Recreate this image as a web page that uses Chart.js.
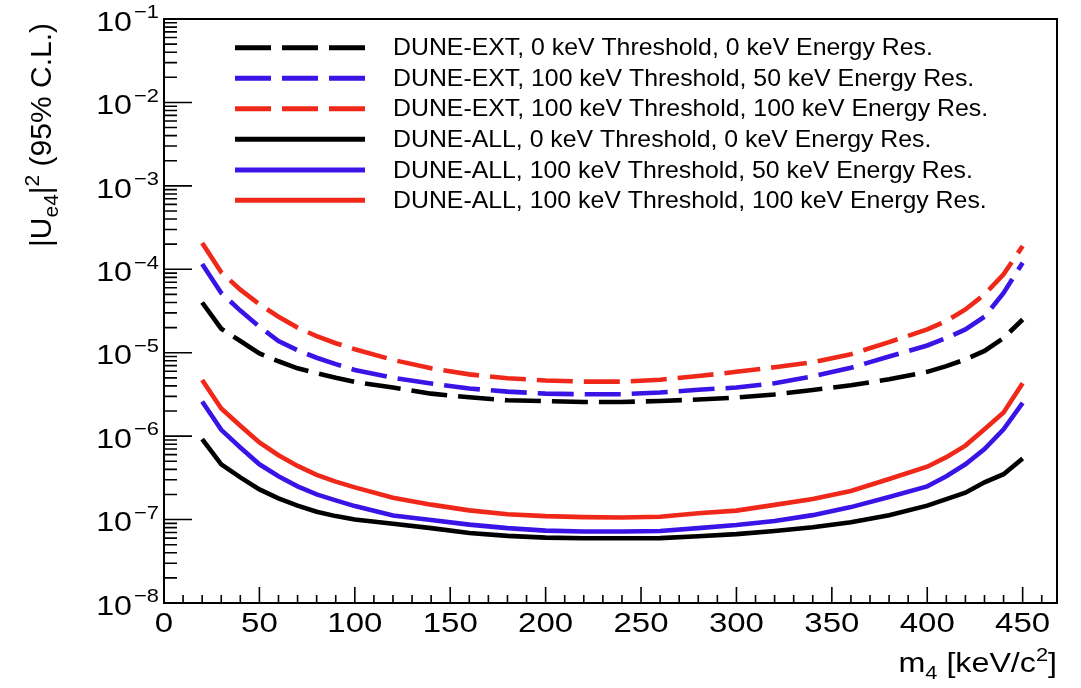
<!DOCTYPE html>
<html><head><meta charset="utf-8">
<script src="https://cdn.jsdelivr.net/npm/chart.js@4.4.1/dist/chart.umd.min.js"></script>
<style>html,body{margin:0;padding:0;background:#fff}#wrap{width:1081px;height:688px}</style>
</head><body><div id="wrap"><canvas id="c" width="1081" height="688"></canvas></div>
<script>
// ---- data ----
const masses = [20,30,40,50,60,70,80,90,100,120,140,160,180,200,220,240,260,280,300,320,340,360,380,400,410,420,430,440,450];
const extT0R0 = [4.0e-5,1.94e-5,1.38e-5,9.8e-6,7.9e-6,6.5e-6,5.7e-6,5.0e-6,4.47e-6,3.82e-6,3.23e-6,2.92e-6,2.69e-6,2.63e-6,2.57e-6,2.57e-6,2.64e-6,2.75e-6,2.9e-6,3.16e-6,3.58e-6,4.07e-6,4.8e-6,5.9e-6,6.9e-6,8.3e-6,1.05e-5,1.5e-5,2.5e-5];
const extT100R50 = [1.16e-4,5.2e-5,3.2e-5,2.05e-5,1.38e-5,1.07e-5,8.7e-6,7.3e-6,6.2e-6,5.0e-6,4.27e-6,3.72e-6,3.42e-6,3.23e-6,3.18e-6,3.18e-6,3.33e-6,3.6e-6,3.82e-6,4.3e-6,5.2e-6,6.6e-6,9.0e-6,1.22e-5,1.5e-5,1.9e-5,2.7e-5,5.2e-5,1.2e-4];
const extT100R100 = [2.07e-4,9.2e-5,5.7e-5,3.8e-5,2.7e-5,2.0e-5,1.58e-5,1.3e-5,1.1e-5,8.2e-6,6.5e-6,5.5e-6,4.95e-6,4.65e-6,4.5e-6,4.5e-6,4.75e-6,5.25e-6,5.9e-6,6.7e-6,7.7e-6,9.6e-6,1.34e-5,1.9e-5,2.4e-5,3.3e-5,5.0e-5,8.7e-5,1.9e-4];
const allT0R0 = [9.2e-7,4.6e-7,3.2e-7,2.3e-7,1.8e-7,1.47e-7,1.24e-7,1.1e-7,1.0e-7,8.9e-8,7.9e-8,6.9e-8,6.37e-8,6.08e-8,5.97e-8,5.97e-8,6.0e-8,6.3e-8,6.7e-8,7.3e-8,8.1e-8,9.3e-8,1.13e-7,1.47e-7,1.76e-7,2.1e-7,2.8e-7,3.5e-7,5.4e-7];
const allT100R50 = [2.6e-6,1.19e-6,7.3e-7,4.6e-7,3.3e-7,2.5e-7,2.0e-7,1.7e-7,1.45e-7,1.12e-7,9.9e-8,8.7e-8,7.9e-8,7.37e-8,7.2e-8,7.2e-8,7.3e-8,7.9e-8,8.6e-8,9.6e-8,1.13e-7,1.41e-7,1.86e-7,2.5e-7,3.3e-7,4.6e-7,7.0e-7,1.21e-6,2.5e-6];
const allT100R100 = [4.7e-6,2.14e-6,1.33e-6,8.4e-7,5.9e-7,4.4e-7,3.44e-7,2.85e-7,2.43e-7,1.83e-7,1.51e-7,1.29e-7,1.16e-7,1.1e-7,1.07e-7,1.06e-7,1.08e-7,1.19e-7,1.28e-7,1.5e-7,1.76e-7,2.2e-7,3.06e-7,4.3e-7,5.6e-7,7.7e-7,1.21e-6,1.92e-6,4.3e-6];
const seriesLabels = [
  "DUNE-EXT, 0 keV Threshold, 0 keV Energy Res.",
  "DUNE-EXT, 100 keV Threshold, 50 keV Energy Res.",
  "DUNE-EXT, 100 keV Threshold, 100 keV Energy Res.",
  "DUNE-ALL, 0 keV Threshold, 0 keV Energy Res.",
  "DUNE-ALL, 100 keV Threshold, 50 keV Energy Res.",
  "DUNE-ALL, 100 keV Threshold, 100 keV Energy Res."
];
const xTickValues = [0,50,100,150,200,250,300,350,400,450];
const yTickExponents = [-8,-7,-6,-5,-4,-3,-2,-1];

// ---- styles ----
const BLACK = '#000000', BLUE = '#3a14e6', RED = '#f0281a';
const DASH = [36, 11];
const FONT = '"Liberation Sans", Arial, sans-serif';

function mk(label, vals, color, dashed) {
  return {
    label, data: masses.map((m, i) => ({x: m, y: vals[i]})),
    borderColor: color, backgroundColor: color, borderWidth: 4.6,
    borderDash: dashed ? DASH : [], pointRadius: 0, tension: 0, fill: false
  };
}
const datasets = [
  mk(seriesLabels[0], extT0R0, BLACK, true),
  mk(seriesLabels[1], extT100R50, BLUE, true),
  mk(seriesLabels[2], extT100R100, RED, true),
  mk(seriesLabels[3], allT0R0, BLACK, false),
  mk(seriesLabels[4], allT100R50, BLUE, false),
  mk(seriesLabels[5], allT100R100, RED, false)
];

function txt(ctx, s, x, y, size, align, sx) {
  ctx.save();
  ctx.font = size + 'px ' + FONT;
  ctx.textAlign = align || 'left';
  ctx.translate(x, y);
  ctx.scale(sx || 1, 1);
  ctx.fillText(s, 0, 0);
  ctx.restore();
}
function width(ctx, s, size, sx) {
  ctx.save(); ctx.font = size + 'px ' + FONT;
  const w = ctx.measureText(s).width * (sx || 1); ctx.restore(); return w;
}

const axesPlugin = {
  id: 'rootAxes',
  afterDraw(chart) {
    const ctx = chart.ctx, a = chart.chartArea;
    const xs = chart.scales.x, ys = chart.scales.y;
    ctx.save();
    ctx.fillStyle = '#000'; ctx.strokeStyle = '#000';
    ctx.lineWidth = 2;
    ctx.strokeRect(a.left, a.top, a.right - a.left, a.bottom - a.top);
    ctx.lineWidth = 1.6;
    ctx.beginPath();
    // y ticks
    for (let e = -8; e <= -1; e++) {
      const yp = ys.getPixelForValue(Math.pow(10, e));
      ctx.moveTo(a.left, yp); ctx.lineTo(a.left + 28, yp);
      if (e < -1) for (let k = 2; k <= 9; k++) {
        const ym = ys.getPixelForValue(k * Math.pow(10, e));
        ctx.moveTo(a.left, ym); ctx.lineTo(a.left + 13, ym);
      }
    }
    // x ticks
    for (let v = 0; v <= xs.max; v += 10) {
      const xp = xs.getPixelForValue(v);
      const L = (v % 50 === 0) ? 16 : 8;
      ctx.moveTo(xp, a.bottom); ctx.lineTo(xp, a.bottom - L);
    }
    ctx.stroke();
    // tick labels
    ctx.textBaseline = 'middle';
    const SX = 1.15;
    yTickExponents.forEach(e => {
      const yp = ys.getPixelForValue(Math.pow(10, e));
      txt(ctx, '10', 132, yp + 4, 28, 'right', SX);
      txt(ctx, '\u2212' + (-e), 134, yp - 6, 19, 'left', SX);
    });
    xTickValues.forEach(v => {
      txt(ctx, String(v), xs.getPixelForValue(v), 624, 27.5, 'center', 1.2);
    });
    // x title
    ctx.textBaseline = 'alphabetic';
    {
      const S = 1.15;
      const parts = [['m',28,0],['4',19,7],[' [keV/c',28,0],['2',19,-11],[']',28,0]];
      let tot = 0; parts.forEach(p => tot += width(ctx, p[0], p[1], S));
      let x = 1057 - tot;
      parts.forEach(p => { txt(ctx, p[0], x, 672 + p[2], p[1], 'left', S); x += width(ctx, p[0], p[1], S); });
    }
    // y title (rotated)
    ctx.save();
    ctx.translate(51, 247);
    ctx.rotate(-Math.PI / 2);
    {
      const parts = [['|U',30,0],['e4',21,7],['|',30,0],['2',21,-12],[' (95% C.L.)',30,0]];
      let x = 0;
      parts.forEach(p => { txt(ctx, p[0], x, p[2], p[1], 'left', 1); x += width(ctx, p[0], p[1], 1); });
    }
    ctx.restore();
    // legend
    const rows = [47.7, 78.3, 108.7, 139.3, 170, 200.3];
    chart.data.datasets.forEach((d, i) => {
      const y = rows[i];
      ctx.save();
      ctx.strokeStyle = d.borderColor; ctx.lineWidth = 5;
      ctx.setLineDash(d.borderDash || []);
      ctx.beginPath(); ctx.moveTo(235, y); ctx.lineTo(365, y); ctx.stroke();
      ctx.restore();
      ctx.textBaseline = 'middle';
      txt(ctx, d.label, 393, y + 1, 24, 'left', 1.035);
    });
    ctx.restore();
  }
};

new Chart(document.getElementById('c'), {
  type: 'line',
  data: { datasets },
  options: {
    responsive: false, animation: false,
    layout: { padding: { left: 164, right: 24, top: 19, bottom: 85 } },
    scales: {
      x: { type: 'linear', min: 0, max: 468, display: false },
      y: { type: 'logarithmic', min: 1e-8, max: 1e-1, display: false }
    },
    plugins: { legend: { display: false }, tooltip: { enabled: false } }
  },
  plugins: [axesPlugin]
});
</script></body></html>
